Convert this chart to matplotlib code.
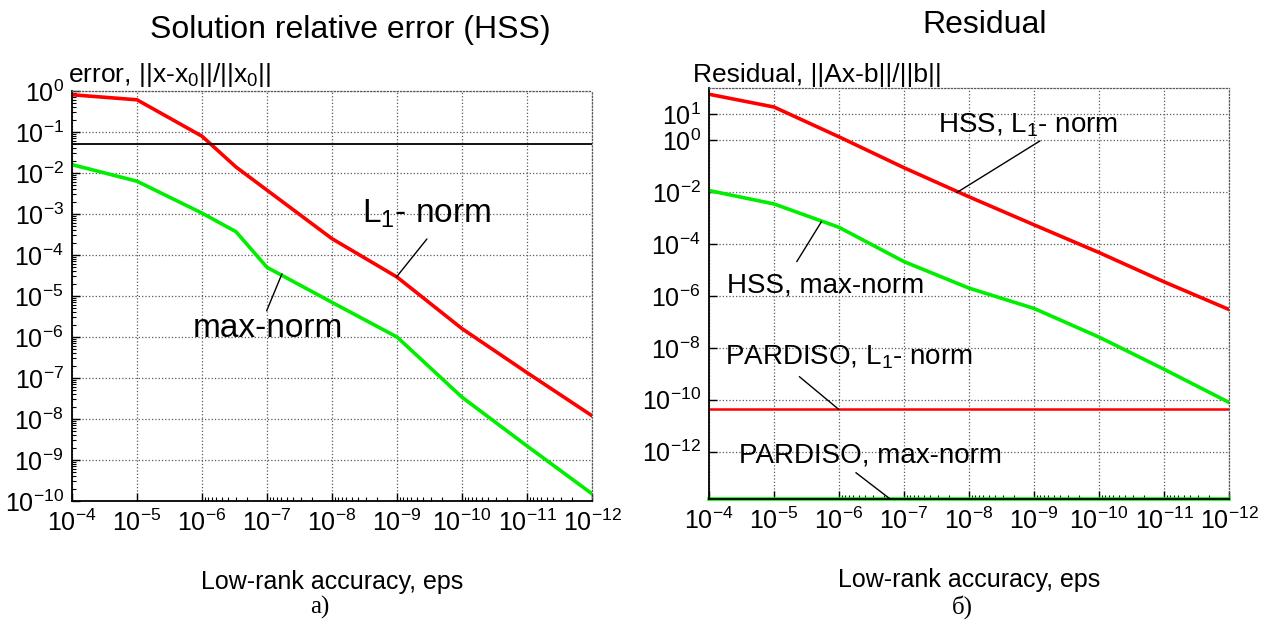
import matplotlib
matplotlib.use('Agg')
import matplotlib.pyplot as plt
from matplotlib.ticker import LogLocator, FixedLocator, NullLocator, LogFormatterMathtext

plt.rcParams['font.family'] = ['Liberation Sans', 'DejaVu Sans']
plt.rcParams['mathtext.fontset'] = 'custom'
plt.rcParams['mathtext.rm'] = 'Liberation Sans'
plt.rcParams['mathtext.it'] = 'Liberation Sans:italic'
plt.rcParams['mathtext.bf'] = 'Liberation Sans:bold'

# a) solution relative error (HSS)
eps_l1_a = [1e-4, 1e-5, 1e-6, 3e-7, 1e-8, 1e-9, 1e-10, 1e-11, 1e-12]
err_l1 = [0.81, 0.61, 0.079, 0.014, 2.5e-4, 2.9e-5, 1.6e-6, 1.35e-7, 1.2e-8]
eps_max_a = [1e-4, 1e-5, 1e-6, 3e-7, 1e-7, 1e-8, 1e-9, 1e-10, 1e-11, 1e-12]
err_max = [1.6e-2, 6.3e-3, 1.05e-3, 3.7e-4, 5e-5, 7e-6, 1e-6, 3.4e-8, 2.2e-9, 1.5e-10]
err_level = 0.05

# b) residual
eps_b = [1e-4, 1e-5, 1e-6, 1e-7, 1e-8, 1e-9, 1e-10, 1e-11, 1e-12]
res_hss_l1 = [59, 19, 1.35, 0.087, 6.6e-3, 5.5e-4, 4.7e-5, 3.5e-6, 3e-7]
res_hss_max = [1.15e-2, 3.5e-3, 4.4e-4, 2.1e-5, 2e-6, 3.3e-7, 2.6e-8, 1.5e-9, 7.9e-11]
res_pardiso_l1 = [4.6e-11, 4.6e-11, 4.6e-11, 4.6e-11, 4.6e-11, 4.6e-11, 4.6e-11, 4.6e-11, 4.6e-11]
res_pardiso_max = [1.5e-14, 1.5e-14, 1.5e-14, 1.5e-14, 1.5e-14, 1.5e-14, 1.5e-14, 1.5e-14, 1.5e-14]

eps_ticks = [1e-4, 1e-5, 1e-6, 1e-7, 1e-8, 1e-9, 1e-10, 1e-11, 1e-12]
res_ticks = [1e1, 1e0, 1e-2, 1e-4, 1e-6, 1e-8, 1e-10, 1e-12]

RED = '#ff0000'
GREEN = '#00ee00'

fig = plt.figure(figsize=(12.69, 6.23), dpi=100)
ax1 = fig.add_axes([72/1269, (623-501)/623, 520/1269, 410/623])
ax2 = fig.add_axes([709/1269, (623-499)/623, 520/1269, 410.7/623])


def setup(ax, ylim):
    ax.set_xscale('log')
    ax.set_yscale('log')
    ax.set_xlim(1e-4, 1e-12)
    ax.set_ylim(*ylim)
    ax.xaxis.set_major_locator(FixedLocator(eps_ticks))
    ax.xaxis.set_major_formatter(LogFormatterMathtext())
    # matlab only drew minor ticks in the later decades
    ax.xaxis.set_minor_locator(FixedLocator([m * 10.0**-k for k in range(7, 13) for m in range(2, 10)]))
    ax.tick_params(which='both', direction='in', top=False, right=False)
    ax.tick_params(which='major', length=6, width=1, labelsize=18, pad=6)
    ax.tick_params(which='minor', length=3, width=0.8)
    ax.grid(True, which='major', ls=':', color='0.35', lw=0.9)
    for s in ['top', 'right']:
        ax.spines[s].set_linestyle(':')
        ax.spines[s].set_color('0.35')
        ax.spines[s].set_linewidth(0.9)
    for s in ['left', 'bottom']:
        ax.spines[s].set_linewidth(1.3)
    ax.set_xlabel('Low-rank accuracy, eps', fontsize=18, labelpad=25)


# ---- left panel
setup(ax1, (1e-10, 1e0))
ax1.yaxis.set_major_locator(LogLocator(base=10, numticks=20))
ax1.yaxis.set_minor_locator(LogLocator(base=10, subs=range(2, 10), numticks=20))
ax1.yaxis.set_major_formatter(LogFormatterMathtext())
ax1.plot(eps_l1_a, err_l1, color=RED, lw=2.6)
ax1.plot(eps_max_a, err_max, color=GREEN, lw=2.6)
ax1.axhline(err_level, color='k', lw=1.3)

ax1.annotate('', xy=(10**-8.99, 10**-4.54), xytext=(10**-9.46, 10**-3.61),
             arrowprops=dict(arrowstyle='-', lw=1, color='k', shrinkA=0, shrinkB=0))
ax1.text(10**-9.46, 10**-3.0, 'L$_1$- norm', fontsize=24, ha='center', va='center')
ax1.annotate('', xy=(10**-7.23, 10**-4.46), xytext=(10**-6.995, 10**-5.36),
             arrowprops=dict(arrowstyle='-', lw=1, color='k', shrinkA=0, shrinkB=0))
ax1.text(10**-7.02, 10**-5.8, 'max-norm', fontsize=24, ha='center', va='center')

# ---- right panel
setup(ax2, (1.5e-14, 1e2))
ax2.yaxis.set_major_locator(FixedLocator(res_ticks))
ax2.yaxis.set_minor_locator(NullLocator())
ax2.yaxis.set_major_formatter(LogFormatterMathtext())
ax2.plot(eps_b, res_hss_l1, color=RED, lw=2.6)
ax2.plot(eps_b, res_hss_max, color=GREEN, lw=2.6)
ax2.plot(eps_b, res_pardiso_l1, color=RED, lw=1.8)
ax2.plot(eps_b, res_pardiso_max, color=GREEN, lw=2.6, clip_on=False)

arrow = dict(arrowstyle='-', lw=1, color='k', shrinkA=0, shrinkB=0)
ax2.annotate('', xy=(10**-7.81, 10**-2.02), xytext=(10**-9.09, 10**-0.03), arrowprops=arrow)
ax2.text(10**-8.91, 10**0.59, 'HSS, L$_1$- norm', fontsize=20, ha='center', va='center')
ax2.annotate('', xy=(10**-5.73, 10**-3.14), xytext=(10**-5.35, 10**-4.68), arrowprops=arrow)
ax2.text(10**-5.8, 10**-5.58, 'HSS, max-norm', fontsize=20, ha='center', va='center')
ax2.annotate('', xy=(10**-6.0, 10**-10.38), xytext=(10**-5.39, 10**-9.11), arrowprops=arrow)
ax2.text(10**-6.15, 10**-8.35, 'PARDISO, L$_1$- norm', fontsize=20, ha='center', va='center')
ax2.annotate('', xy=(10**-6.78, 10**-13.81), xytext=(10**-6.26, 10**-12.81), arrowprops=arrow)
ax2.text(10**-6.48, 10**-12.13, 'PARDISO, max-norm', fontsize=20, ha='center', va='center')

# titles and axis captions on top
fig.text(350/1269, 1 - 30/623, 'Solution relative error (HSS)', fontsize=23, ha='center', va='center')
fig.text(985/1269, 1 - 25/623, 'Residual', fontsize=23, ha='center', va='center')
fig.text(68/1269, 1 - 75/623, 'error, ||x-x$_0$||/||x$_0$||', fontsize=19, ha='left', va='center')
fig.text(693/1269, 1 - 75/623, 'Residual, ||Ax-b||/||b||', fontsize=19, ha='left', va='center')

fig.text(320/1269, 1 - 607/623, 'а)', fontsize=18, ha='center', va='center',
         family=['Liberation Serif', 'DejaVu Serif'])
fig.text(962/1269, 1 - 607/623, 'б)', fontsize=18, ha='center', va='center',
         family=['Liberation Serif', 'DejaVu Serif'])

fig.savefig('out.png', dpi=100)
